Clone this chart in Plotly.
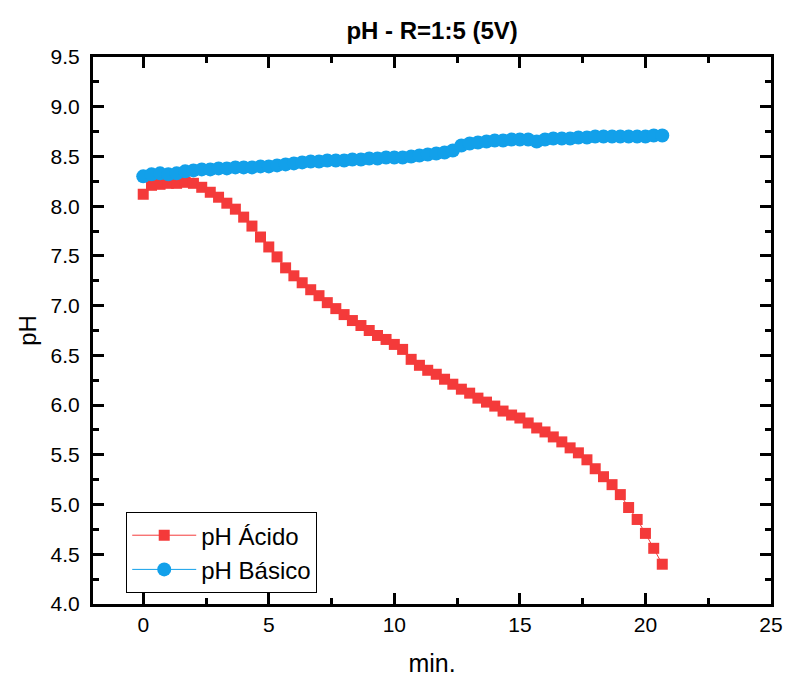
import plotly.graph_objects as go

minutes = [0.00, 0.33, 0.67, 1.00, 1.33, 1.67, 2.00, 2.33, 2.67, 3.00,
           3.33, 3.67, 4.00, 4.33, 4.67, 5.00, 5.33, 5.67, 6.00, 6.33,
           6.67, 7.00, 7.33, 7.67, 8.00, 8.33, 8.67, 9.00, 9.33, 9.67,
           10.00, 10.33, 10.67, 11.00, 11.33, 11.67, 12.00, 12.33, 12.67, 13.00,
           13.33, 13.67, 14.00, 14.33, 14.67, 15.00, 15.33, 15.67, 16.00, 16.33,
           16.67, 17.00, 17.33, 17.67, 18.00, 18.33, 18.67, 19.00, 19.33, 19.67,
           20.00, 20.33, 20.67]

ph_acido = [8.12, 8.21, 8.22, 8.23, 8.23, 8.24, 8.23, 8.19, 8.14, 8.09,
            8.03, 7.97, 7.89, 7.80, 7.69, 7.59, 7.49, 7.38, 7.30, 7.23,
            7.16, 7.10, 7.03, 6.97, 6.91, 6.85, 6.80, 6.75, 6.70, 6.66,
            6.61, 6.56, 6.46, 6.40, 6.35, 6.31, 6.26, 6.21, 6.16, 6.12,
            6.07, 6.03, 5.99, 5.94, 5.90, 5.87, 5.82, 5.77, 5.73, 5.68,
            5.63, 5.57, 5.52, 5.45, 5.36, 5.28, 5.20, 5.10, 4.97, 4.85,
            4.71, 4.56, 4.40]

ph_basico = [8.30, 8.32, 8.33, 8.32, 8.33, 8.35, 8.36, 8.37, 8.37, 8.38,
             8.38, 8.39, 8.39, 8.39, 8.40, 8.40, 8.41, 8.42, 8.43, 8.44,
             8.45, 8.45, 8.46, 8.46, 8.46, 8.47, 8.47, 8.48, 8.48, 8.49,
             8.49, 8.49, 8.50, 8.51, 8.52, 8.53, 8.54, 8.56, 8.61, 8.63,
             8.64, 8.65, 8.66, 8.66, 8.67, 8.67, 8.67, 8.65, 8.67, 8.68,
             8.68, 8.68, 8.69, 8.69, 8.70, 8.70, 8.70, 8.70, 8.70, 8.70,
             8.70, 8.71, 8.71]

RED = "#F43A3A"
BLUE = "#12A0EA"
FONT = "Liberation Sans, Arial, sans-serif"

fig = go.Figure()
fig.add_trace(go.Scatter(
    x=minutes, y=ph_acido, name="pH Ácido", mode="lines+markers",
    line=dict(color=RED, width=1),
    marker=dict(symbol="square", size=11, color=RED),
))
fig.add_trace(go.Scatter(
    x=minutes, y=ph_basico, name="pH Básico", mode="lines+markers",
    line=dict(color=BLUE, width=1),
    marker=dict(symbol="circle", size=14, color=BLUE),
))

axis_common = dict(
    showline=True, linecolor="black", linewidth=3, mirror="ticks",
    ticks="inside", ticklen=11, tickwidth=3, tickcolor="black",
    showgrid=False, zeroline=False, automargin=False,
    tickfont=dict(family=FONT, size=21, color="black"),
)

fig.update_layout(
    width=787, height=684,
    margin=dict(l=93, r=16, t=57, b=80),
    paper_bgcolor="white", plot_bgcolor="white",
    title=dict(text="<b>pH - R=1:5 (5V)</b>", x=0.549, xanchor="center",
               y=0.955, yanchor="middle",
               font=dict(family=FONT, size=24, color="black")),
    xaxis=dict(range=[-2, 25], tick0=0, dtick=5,
               minor=dict(ticks="inside", ticklen=6, tickwidth=3, dtick=2.5, tick0=0, tickcolor="black"),
               title=dict(text="min.", font=dict(family=FONT, size=25, color="black"), standoff=20),
               ticklabelstandoff=0,
               **axis_common),
    yaxis=dict(range=[4.0, 9.5], tick0=4.0, dtick=0.5, tickformat=".1f",
               minor=dict(ticks="inside", ticklen=6, tickwidth=3, dtick=0.25, tick0=4.0, tickcolor="black"),
               title=dict(text="pH", font=dict(family=FONT, size=24, color="black"), standoff=8),
               ticklabelstandoff=6,
               **axis_common),
    legend=dict(x=0.049, y=0.168, xanchor="left", yanchor="top",
                bgcolor="white", bordercolor="black", borderwidth=1,
                font=dict(family=FONT, size=24, color="black"),
                itemwidth=64, tracegroupgap=0),
    showlegend=True,
)

fig.write_html("out.html")
